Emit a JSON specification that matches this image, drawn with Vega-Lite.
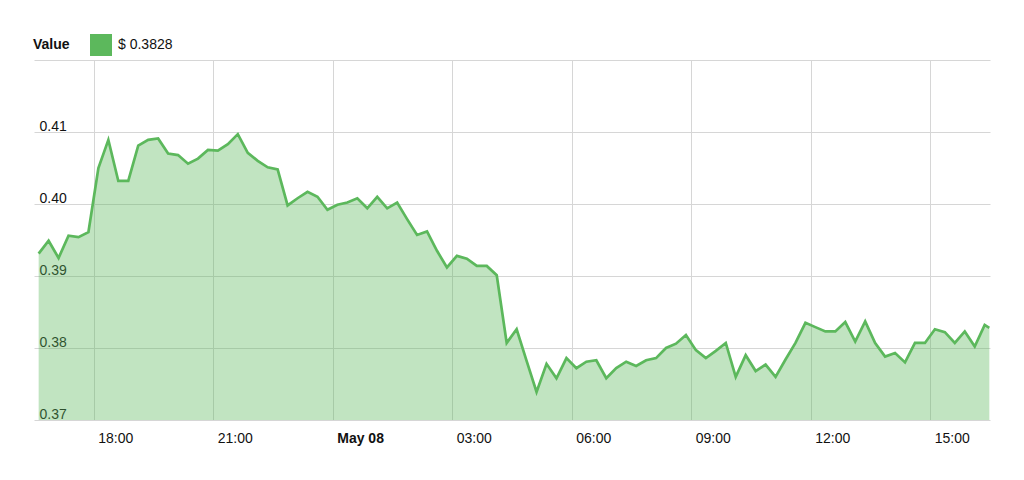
{
  "$schema": "https://vega.github.io/schema/vega-lite/v6.json",
  "width": 956,
  "height": 360,
  "autosize": {"type": "none"},
  "padding": {"left": 34, "top": 60, "right": 34, "bottom": 60},
  "background": "white",
  "config": {"view": {"stroke": null}, "font": "Liberation Sans"},
  "data": {
    "values": [
      {"time": "2018-05-07T16:37:00", "price": 0.3931},
      {"time": "2018-05-07T16:52:00", "price": 0.3949},
      {"time": "2018-05-07T17:07:00", "price": 0.3925},
      {"time": "2018-05-07T17:22:00", "price": 0.3956},
      {"time": "2018-05-07T17:37:00", "price": 0.3954},
      {"time": "2018-05-07T17:52:00", "price": 0.3961},
      {"time": "2018-05-07T18:07:00", "price": 0.4050},
      {"time": "2018-05-07T18:22:00", "price": 0.4089},
      {"time": "2018-05-07T18:37:00", "price": 0.4032},
      {"time": "2018-05-07T18:52:00", "price": 0.4032},
      {"time": "2018-05-07T19:07:00", "price": 0.4081},
      {"time": "2018-05-07T19:22:00", "price": 0.4089},
      {"time": "2018-05-07T19:37:00", "price": 0.4091},
      {"time": "2018-05-07T19:52:00", "price": 0.4070},
      {"time": "2018-05-07T20:07:00", "price": 0.4068},
      {"time": "2018-05-07T20:22:00", "price": 0.4056},
      {"time": "2018-05-07T20:37:00", "price": 0.4063},
      {"time": "2018-05-07T20:52:00", "price": 0.4075},
      {"time": "2018-05-07T21:07:00", "price": 0.4074},
      {"time": "2018-05-07T21:22:00", "price": 0.4083},
      {"time": "2018-05-07T21:37:00", "price": 0.4097},
      {"time": "2018-05-07T21:52:00", "price": 0.4071},
      {"time": "2018-05-07T22:07:00", "price": 0.4060},
      {"time": "2018-05-07T22:22:00", "price": 0.4051},
      {"time": "2018-05-07T22:37:00", "price": 0.4048},
      {"time": "2018-05-07T22:52:00", "price": 0.3998},
      {"time": "2018-05-07T23:07:00", "price": 0.4008},
      {"time": "2018-05-07T23:22:00", "price": 0.4017},
      {"time": "2018-05-07T23:37:00", "price": 0.4010},
      {"time": "2018-05-07T23:52:00", "price": 0.3992},
      {"time": "2018-05-08T00:07:00", "price": 0.3999},
      {"time": "2018-05-08T00:22:00", "price": 0.4002},
      {"time": "2018-05-08T00:37:00", "price": 0.4008},
      {"time": "2018-05-08T00:52:00", "price": 0.3994},
      {"time": "2018-05-08T01:07:00", "price": 0.4010},
      {"time": "2018-05-08T01:22:00", "price": 0.3994},
      {"time": "2018-05-08T01:37:00", "price": 0.4002},
      {"time": "2018-05-08T01:52:00", "price": 0.3979},
      {"time": "2018-05-08T02:07:00", "price": 0.3957},
      {"time": "2018-05-08T02:22:00", "price": 0.3962},
      {"time": "2018-05-08T02:37:00", "price": 0.3935},
      {"time": "2018-05-08T02:52:00", "price": 0.3912},
      {"time": "2018-05-08T03:07:00", "price": 0.3928},
      {"time": "2018-05-08T03:22:00", "price": 0.3924},
      {"time": "2018-05-08T03:37:00", "price": 0.3914},
      {"time": "2018-05-08T03:52:00", "price": 0.3914},
      {"time": "2018-05-08T04:07:00", "price": 0.3901},
      {"time": "2018-05-08T04:22:00", "price": 0.3807},
      {"time": "2018-05-08T04:37:00", "price": 0.3826},
      {"time": "2018-05-08T04:52:00", "price": 0.3782},
      {"time": "2018-05-08T05:07:00", "price": 0.3739},
      {"time": "2018-05-08T05:22:00", "price": 0.3778},
      {"time": "2018-05-08T05:37:00", "price": 0.3758},
      {"time": "2018-05-08T05:52:00", "price": 0.3786},
      {"time": "2018-05-08T06:07:00", "price": 0.3772},
      {"time": "2018-05-08T06:22:00", "price": 0.3781},
      {"time": "2018-05-08T06:37:00", "price": 0.3783},
      {"time": "2018-05-08T06:52:00", "price": 0.3758},
      {"time": "2018-05-08T07:07:00", "price": 0.3772},
      {"time": "2018-05-08T07:22:00", "price": 0.3781},
      {"time": "2018-05-08T07:37:00", "price": 0.3775},
      {"time": "2018-05-08T07:52:00", "price": 0.3783},
      {"time": "2018-05-08T08:07:00", "price": 0.3786},
      {"time": "2018-05-08T08:22:00", "price": 0.3800},
      {"time": "2018-05-08T08:37:00", "price": 0.3806},
      {"time": "2018-05-08T08:52:00", "price": 0.3818},
      {"time": "2018-05-08T09:07:00", "price": 0.3797},
      {"time": "2018-05-08T09:22:00", "price": 0.3786},
      {"time": "2018-05-08T09:37:00", "price": 0.3796},
      {"time": "2018-05-08T09:52:00", "price": 0.3807},
      {"time": "2018-05-08T10:07:00", "price": 0.3760},
      {"time": "2018-05-08T10:22:00", "price": 0.3790},
      {"time": "2018-05-08T10:37:00", "price": 0.3768},
      {"time": "2018-05-08T10:52:00", "price": 0.3777},
      {"time": "2018-05-08T11:07:00", "price": 0.3760},
      {"time": "2018-05-08T11:22:00", "price": 0.3784},
      {"time": "2018-05-08T11:37:00", "price": 0.3807},
      {"time": "2018-05-08T11:52:00", "price": 0.3835},
      {"time": "2018-05-08T12:07:00", "price": 0.3829},
      {"time": "2018-05-08T12:22:00", "price": 0.3823},
      {"time": "2018-05-08T12:37:00", "price": 0.3823},
      {"time": "2018-05-08T12:52:00", "price": 0.3836},
      {"time": "2018-05-08T13:07:00", "price": 0.3809},
      {"time": "2018-05-08T13:22:00", "price": 0.3837},
      {"time": "2018-05-08T13:37:00", "price": 0.3807},
      {"time": "2018-05-08T13:52:00", "price": 0.3788},
      {"time": "2018-05-08T14:07:00", "price": 0.3793},
      {"time": "2018-05-08T14:22:00", "price": 0.3780},
      {"time": "2018-05-08T14:37:00", "price": 0.3807},
      {"time": "2018-05-08T14:52:00", "price": 0.3807},
      {"time": "2018-05-08T15:07:00", "price": 0.3826},
      {"time": "2018-05-08T15:22:00", "price": 0.3822},
      {"time": "2018-05-08T15:37:00", "price": 0.3807},
      {"time": "2018-05-08T15:52:00", "price": 0.3823},
      {"time": "2018-05-08T16:07:00", "price": 0.3802},
      {"time": "2018-05-08T16:22:00", "price": 0.3832},
      {"time": "2018-05-08T16:29:00", "price": 0.3828}
    ]
  },
  "encoding": {
    "x": {
      "field": "time",
      "type": "temporal",
      "scale": {
        "domain": [
          {"year": 2018, "month": 5, "date": 7, "hours": 16, "minutes": 30},
          {"year": 2018, "month": 5, "date": 8, "hours": 16, "minutes": 30}
        ]
      },
      "axis": {
        "title": null,
        "domain": false,
        "ticks": false,
        "tickSize": 0,
        "grid": true,
        "gridColor": "#d6d6d6",
        "values": [
          {"year": 2018, "month": 5, "date": 7, "hours": 18},
          {"year": 2018, "month": 5, "date": 7, "hours": 21},
          {"year": 2018, "month": 5, "date": 8, "hours": 0},
          {"year": 2018, "month": 5, "date": 8, "hours": 3},
          {"year": 2018, "month": 5, "date": 8, "hours": 6},
          {"year": 2018, "month": 5, "date": 8, "hours": 9},
          {"year": 2018, "month": 5, "date": 8, "hours": 12},
          {"year": 2018, "month": 5, "date": 8, "hours": 15}
        ],
        "labelAlign": "left",
        "labelOffset": 4,
        "labelPadding": 11,
        "labelBaseline": "top",
        "labelFontSize": 14,
        "labelColor": "#111111",
        "labelOverlap": false,
        "labelFlush": false,
        "labelExpr": "hours(datum.value) == 0 ? timeFormat(datum.value, '%b %d') : timeFormat(datum.value, '%H:%M')",
        "labelFontWeight": {"condition": {"test": "hours(datum.value) == 0", "value": "bold"}, "value": "normal"}
      }
    },
    "y": {
      "field": "price",
      "type": "quantitative",
      "scale": {"domain": [0.37, 0.42], "zero": false, "nice": false},
      "axis": {
        "title": null,
        "domain": false,
        "ticks": false,
        "tickSize": 0,
        "grid": true,
        "gridColor": "#d6d6d6",
        "values": [0.37, 0.38, 0.39, 0.4, 0.41, 0.42],
        "labelAlign": "left",
        "labelPadding": -5,
        "labelBaseline": "alphabetic",
        "labelOffset": -2,
        "labelFontSize": 14,
        "labelColor": "#111111",
        "labelOverlap": false,
        "labelFlush": false,
        "labelExpr": "datum.value > 0.415 ? '' : format(datum.value, '.2f')"
      }
    }
  },
  "layer": [
    {
      "mark": {"type": "area", "fill": "#5cb85c", "fillOpacity": 0.38, "clip": true}
    },
    {
      "mark": {"type": "line", "strokeWidth": 2.7, "clip": true},
      "encoding": {
        "color": {
          "datum": "$ 0.3828",
          "scale": {"range": ["#5cb85c"]},
          "legend": {
            "title": "Value",
            "orient": "none",
            "legendX": -1,
            "legendY": -26,
            "direction": "horizontal",
            "titleOrient": "left",
            "titleFontSize": 14,
            "titleFontWeight": "bold",
            "titleColor": "#111111",
            "titlePadding": 20,
            "symbolType": "square",
            "symbolSize": 484,
            "symbolFillColor": "#5cb85c",
            "symbolStrokeColor": "#5cb85c",
            "symbolStrokeWidth": 0,
            "symbolOpacity": 1,
            "labelFontSize": 14,
            "labelColor": "#111111",
            "labelOffset": 6,
            "padding": 0,
            "encode": {"symbols": {"update": {"fill": {"value": "#5cb85c"}, "opacity": {"value": 1}}}}
          }
        }
      }
    }
  ]
}
